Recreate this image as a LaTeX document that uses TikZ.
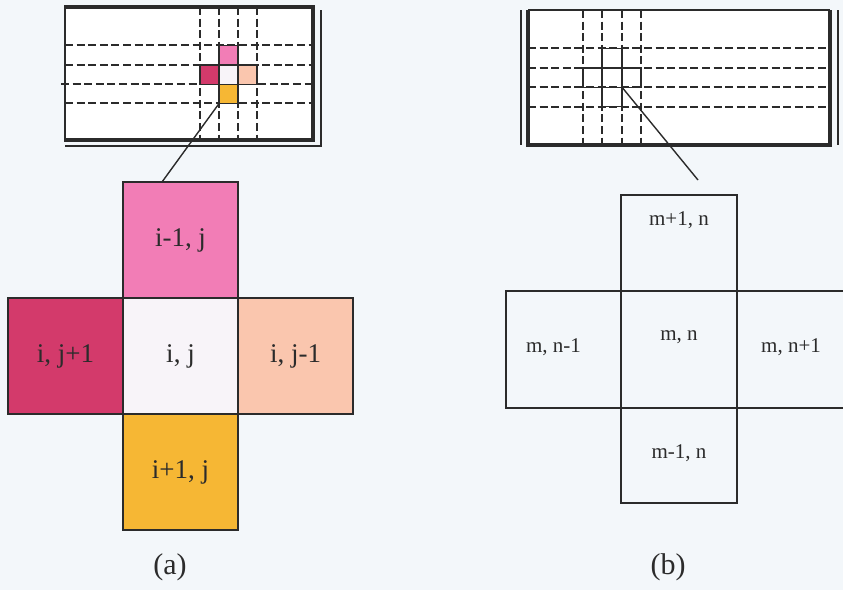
\documentclass[tikz,border=0pt]{standalone}
\usepackage{fontspec}
\setmainfont{Liberation Serif}
\usetikzlibrary{positioning,calc}
\definecolor{GridInk}{HTML}{2B2B2B}
\definecolor{PaperTint}{HTML}{F3F7FA}
\definecolor{CellUp}{HTML}{F27DB6}
\definecolor{CellLeft}{HTML}{D33A6B}
\definecolor{CellRight}{HTML}{FAC6AE}
\definecolor{CellDown}{HTML}{F6B734}
\definecolor{CellMid}{HTML}{F8F4F9}
\tikzset{
  bigcell/.style={
    draw=GridInk,
    line width=0.8pt,
    minimum width=57.5pt,
    minimum height=58pt,
    inner sep=0pt,
    outer sep=0pt,
    text=GridInk,
    font=\fontsize{13.5}{16}\selectfont
  },
  plaincell/.style={draw=GridInk, line width=0.8pt, minimum width=58pt, minimum height=58.5pt, inner sep=0pt, outer sep=0pt},
  celltext/.style={text=GridInk, inner sep=0pt, font=\fontsize{10.5}{12}\selectfont},
  tinycell/.style={draw=GridInk, line width=0.7pt, minimum width=9.5pt, minimum height=9.7pt, inner sep=0pt, outer sep=0pt},
  gridline/.style={draw=GridInk, line width=0.9pt, dash pattern=on 4pt off 1.8pt},
  thinrule/.style={draw=GridInk, line width=0.7pt},
  thickrule/.style={draw=GridInk, line width=2pt},
  leader/.style={draw=GridInk, line width=0.7pt},
  caption/.style={text=GridInk, font=\fontsize{15}{18}\selectfont}
}

\begin{document}
\begin{tikzpicture}[x=0.5pt, y=-0.5pt]
  \clip (0,0) rectangle (843,590);
  \fill[PaperTint] (0,0) rectangle (843,590);

  % (a) image with the dashed pixel grid
  \fill[white] (65,7) rectangle (313,140);
  \foreach \gx in {200,219,238,257} \draw[gridline] (\gx,7) -- (\gx,140);
  \foreach \gy in {45,65,103} \draw[gridline] (65,\gy) -- (313,\gy);
  \draw[gridline] (61,84) -- (313,84);
  \draw[thinrule] (65,7) -- (65,140);
  \draw[thickrule] (64,7) -- (313,7) -- (313,140) -- (64,140);
  \draw[thinrule] (321,10) -- (321,146) -- (65,146);

  \node[tinycell, fill=CellMid] (smid) at (228.5,74.5) {};
  \node[tinycell, fill=CellUp, above=0pt of smid] (sup) {};
  \node[tinycell, fill=CellLeft, left=0pt of smid] (sleft) {};
  \node[tinycell, fill=CellRight, right=0pt of smid] (sright) {};
  \node[tinycell, fill=CellDown, below=0pt of smid] (sdown) {};

  % (b) image with the dashed pixel grid
  \fill[white] (528,10) rectangle (830,145);
  \foreach \gx in {583,602,622,641} \draw[gridline] (\gx,10) -- (\gx,145);
  \foreach \gy in {48,68,87,107} \draw[gridline] (528,\gy) -- (830,\gy);
  \draw[thinrule] (528,10) -- (830,10);
  \draw[thickrule] (528,10) -- (528,145) -- (830,145) -- (830,10);
  \draw[thinrule] (521,10) -- (521,145);
  \draw[thinrule] (838,10) -- (838,145);

  \node[tinycell, minimum width=10pt] (rsmid) at (612,77.5) {};
  \node[tinycell, minimum width=10pt, above=0pt of rsmid] (rsup) {};
  \node[tinycell, left=0pt of rsmid] (rsleft) {};
  \node[tinycell, right=0pt of rsmid] (rsright) {};
  \node[tinycell, minimum width=10pt, below=0pt of rsmid] (rsdown) {};

  % enlarged neighbourhood (a)
  \node[bigcell, fill=CellMid] (lmid) at (180.5,356) {i, j};
  \node[bigcell, fill=CellUp, above=0pt of lmid] (lup) {i-1, j};
  \node[bigcell, fill=CellLeft, left=0pt of lmid] (lleft) {i, j+1};
  \node[bigcell, fill=CellRight, right=0pt of lmid] (lright) {i, j-1};
  \node[bigcell, fill=CellDown, below=0pt of lmid] (ldown) {i+1, j};

  % enlarged neighbourhood (b)
  \node[plaincell] (rmid) at (679,349.5) {};
  \node[plaincell, minimum height=48pt, above=0pt of rmid] (rup) {};
  \node[plaincell, minimum height=47.5pt, below=0pt of rmid] (rdown) {};
  \node[plaincell, minimum width=57.5pt, left=0pt of rmid] (rleft) {};
  \node[plaincell, right=0pt of rmid] (rright) {};
  \node[celltext] (tup) at ($(rup.north)+(0,25)$) {m+1, n};
  \node[celltext] (tmid) at ($(rmid.center)+(0,-12)$) {m, n};
  \node[celltext] (tleft) at ($(rleft.center)+(-10,-2)$) {m, n-1};
  \node[celltext] (tright) at ($(rright.center)+(-4,-2)$) {m, n+1};
  \node[celltext] (tdown) at ($(rdown.center)+(0,-2)$) {m-1, n};

  % zoom leaders
  \coordinate (lfoot) at ($(lup.north west)+(39,0)$);
  \draw[leader] (sdown.south west) -- (lfoot);
  \coordinate (rfoot) at (698,180);
  \draw[leader] (rsmid.south east) -- (rfoot);

  \node[caption] (capa) at (170,567) {(a)};
  \node[caption] (capb) at (668,567) {(b)};
\end{tikzpicture}
\end{document}
